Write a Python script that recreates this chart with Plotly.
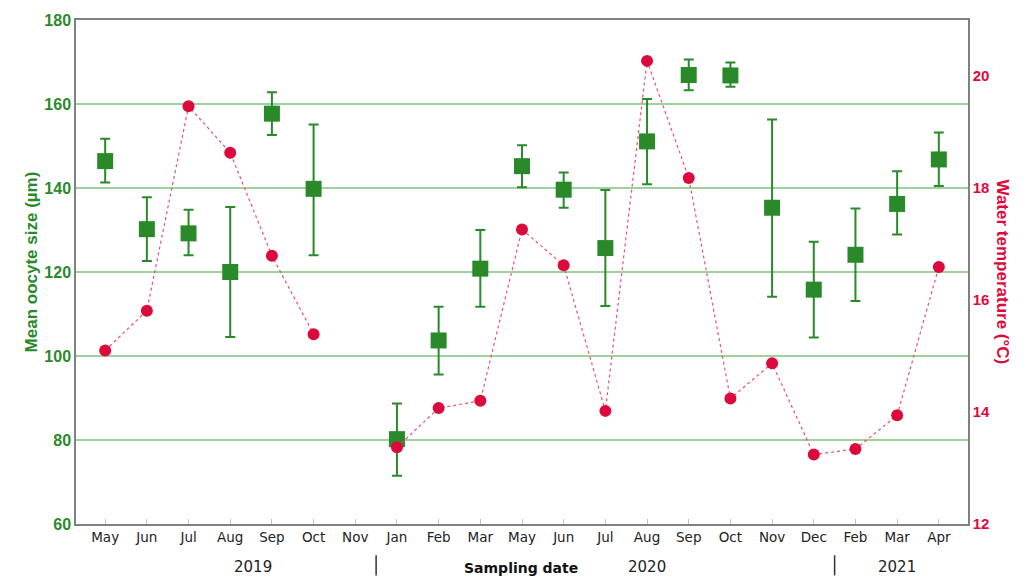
import plotly.graph_objects as go

months = ["May", "Jun", "Jul", "Aug", "Sep", "Oct", "Nov",
          "Jan", "Feb", "Mar", "May", "Jun", "Jul", "Aug", "Sep", "Oct", "Nov", "Dec",
          "Feb", "Mar", "Apr"]
oocyte_mean = [146.4, 130.2, 129.2, 120.0, 157.7, 139.8, None,
               80.2, 103.7, 120.8, 145.2, 139.6, 125.7, 151.1, 166.9, 166.8, 135.3, 115.8,
               124.1, 136.2, 146.8]
oocyte_upper = [151.7, 137.8, 134.8, 135.5, 162.8, 155.1, None,
                88.7, 111.7, 130.0, 150.2, 143.7, 139.5, 161.2, 170.6, 169.9, 156.3, 127.2,
                135.1, 144.0, 153.2]
oocyte_lower = [141.3, 122.6, 124.0, 104.5, 152.6, 124.0, None,
                71.5, 95.6, 111.7, 140.2, 135.3, 111.9, 140.9, 163.3, 164.1, 114.1, 104.4,
                113.1, 128.9, 140.5]
water_temp = [15.10, 15.81, 19.46, 18.63, 16.79, 15.39, None,
              13.37, 14.07, 14.20, 17.26, 16.62, 14.02, 20.27, 18.18, 14.24, 14.87, 13.24,
              13.34, 13.94, 16.59]
years = ["2019", "2020", "2021"]

x = list(range(len(months)))
err_plus = [None if m is None else u - m for m, u in zip(oocyte_mean, oocyte_upper)]
err_minus = [None if m is None else m - l for m, l in zip(oocyte_mean, oocyte_lower)]

GREEN = "#2a8a2a"
RED = "#dc0a3c"

fig = go.Figure()
fig.add_trace(go.Scatter(
    x=x, y=oocyte_mean, mode="markers",
    marker=dict(symbol="square", size=16, color=GREEN),
    error_y=dict(type="data", symmetric=False, array=err_plus, arrayminus=err_minus,
                 color=GREEN, thickness=2, width=5),
    showlegend=False, yaxis="y"))
fig.add_trace(go.Scatter(
    x=x, y=water_temp, mode="lines+markers", connectgaps=False,
    line=dict(color="rgba(235,70,105,0.95)", width=1.2, dash="dot"),
    marker=dict(symbol="circle", size=12, color=RED),
    showlegend=False, yaxis="y2"))

fig.update_layout(
    width=1026, height=578,
    margin=dict(l=76, r=58, t=17, b=54),
    plot_bgcolor="white", paper_bgcolor="white",
    font=dict(family="Liberation Sans, Arial", size=13, color="#222"),
    xaxis=dict(range=[-0.7, 20.7], tickmode="array", tickvals=x, ticktext=months,
               ticks="inside", ticklen=5, tickcolor="#c0c0c0", tickwidth=1,
               showline=True, linecolor="#808080", linewidth=1.5, mirror=True,
               showgrid=False, zeroline=False,
               tickfont=dict(family="DejaVu Sans", size=13.5, color="#222")),
    yaxis=dict(range=[60, 180], dtick=20, showgrid=True, gridcolor="#9fd09f", gridwidth=1.5,
               showline=True, linecolor="#808080", linewidth=1.5, mirror=True,
               zeroline=False, ticks="",
               tickfont=dict(family="Liberation Sans", size=16, color=GREEN, weight="bold")),
    yaxis2=dict(range=[12, 21], dtick=2, tick0=12, overlaying="y", side="right",
                showgrid=False, zeroline=False, showline=True, linecolor="#808080",
                linewidth=1.5, ticks="",
                tickfont=dict(family="Liberation Sans", size=15, color=RED, weight="bold")),
)

# axis titles
fig.add_annotation(text="Mean oocyte size (µm)", xref="paper", yref="paper",
                   x=0, y=0.52, xshift=-56, textangle=-90, showarrow=False,
                   font=dict(family="Liberation Sans", size=17, color=GREEN, weight="bold"))
fig.add_annotation(text="Water temperature (°C)", xref="paper", yref="paper",
                   x=1, y=0.5, xshift=46, textangle=90, showarrow=False,
                   font=dict(family="Liberation Sans", size=17, color=RED, weight="bold"))

# year labels and separators
year_pos = [3.55, 13.0, 19.0]
for yr, pos in zip(years, year_pos):
    fig.add_annotation(text=yr, x=pos, xref="x", y=-0.085, yref="paper", showarrow=False,
                       yanchor="middle",
                       font=dict(family="DejaVu Sans", size=15, color="#222"))
fig.add_annotation(text="Sampling date", x=9.98, xref="x", y=-0.088, yref="paper",
                   showarrow=False, yanchor="middle",
                   font=dict(family="DejaVu Sans", size=14, color="#111", weight="bold"))
for sep in [6.5, 17.5]:
    fig.add_shape(type="line", xref="x", yref="paper", x0=sep, x1=sep, y0=-0.062, y1=-0.102,
                  line=dict(color="#333", width=1.5))

fig.write_html("out.html", config={"displayModeBar": False},
               post_script="document.body.style.margin='0';document.body.style.padding='0';"
                           "document.documentElement.style.overflow='hidden';")
